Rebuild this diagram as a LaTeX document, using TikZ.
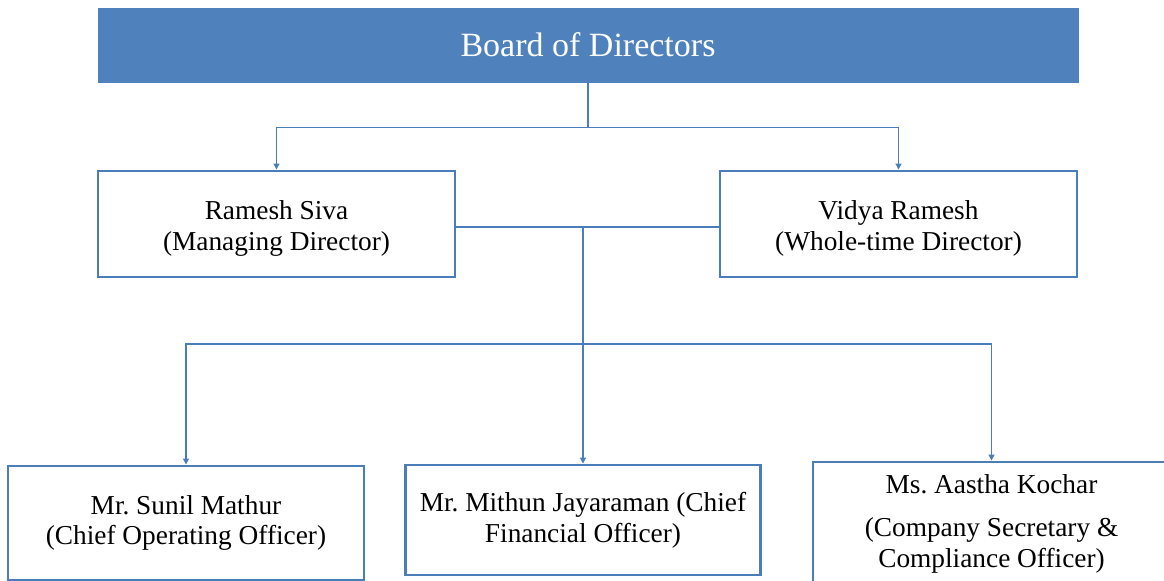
\documentclass[tikz,border=0pt]{standalone}
\usepackage{fontspec}
\setmainfont{Liberation Serif}
\usetikzlibrary{arrows.meta}
\definecolor{cBlue}{HTML}{4F81BD}
\definecolor{cLine}{HTML}{4A7EBB}
\frenchspacing
\begin{document}
\begin{tikzpicture}[x=0.75pt,y=-0.75pt,
  box/.style={draw=cLine,line width=2.2pt,fill=white,inner sep=0pt,align=center,
    font=\fontsize{20.5}{23}\selectfont\frenchspacing,text=black},
  topbox/.style={draw=cBlue,fill=cBlue,inner sep=0pt,align=center,
    font=\fontsize{25.5}{30}\selectfont,text=white,
    minimum width=735pt,minimum height=55.5pt},
  conn/.style={draw=cLine,line width=0.9pt},
  arr/.style={conn,-{Triangle[length=4.5pt,width=4.5pt]}}]
\useasboundingbox (0,0) rectangle (1164,581);
\clip (0,0) rectangle (1164,581);
\node[topbox] (top) at (588,45) {Board of Directors};
\node[box,minimum width=267.75pt,minimum height=79.5pt] (ramesh) at (276.5,224)
  {\\[-2pt]Ramesh Siva\\(Managing Director)};
\node[box,minimum width=267.75pt,minimum height=79.5pt] (vidya) at (898.5,224)
  {\\[-2pt]Vidya Ramesh\\(Whole-time Director)};
\node[box,minimum width=267pt,minimum height=85.5pt] (sunil) at (186,523)
  {Mr. Sunil Mathur\\(Chief Operating Officer)};
\node[box,minimum width=266.25pt,minimum height=82.5pt] (mithun) at (583,520)
  {Mr. Mithun Jayaraman (Chief\\Financial Officer)};
\node[box,minimum width=267.75pt,minimum height=93pt] (aastha) at (991.5,524)
  {Ms. Aastha Kochar\\[9pt](Company Secretary \&\\Compliance Officer)};
\draw[arr] (top.south) -- ++(0,45) coordinate (j1) -| (ramesh.north);
\draw[arr] (j1) -| (vidya.north);
\draw[conn] ([yshift=-2.25pt]ramesh.east) -- ([yshift=-2.25pt]vidya.west);
\draw[arr] ([yshift=-2.25pt]ramesh.east -| mithun.north) -- (mithun.north);
\coordinate (j2) at (583,344);
\draw[arr] (j2) -| (sunil.north);
\draw[arr] (j2) -| (aastha.north);
\end{tikzpicture}
\end{document}
